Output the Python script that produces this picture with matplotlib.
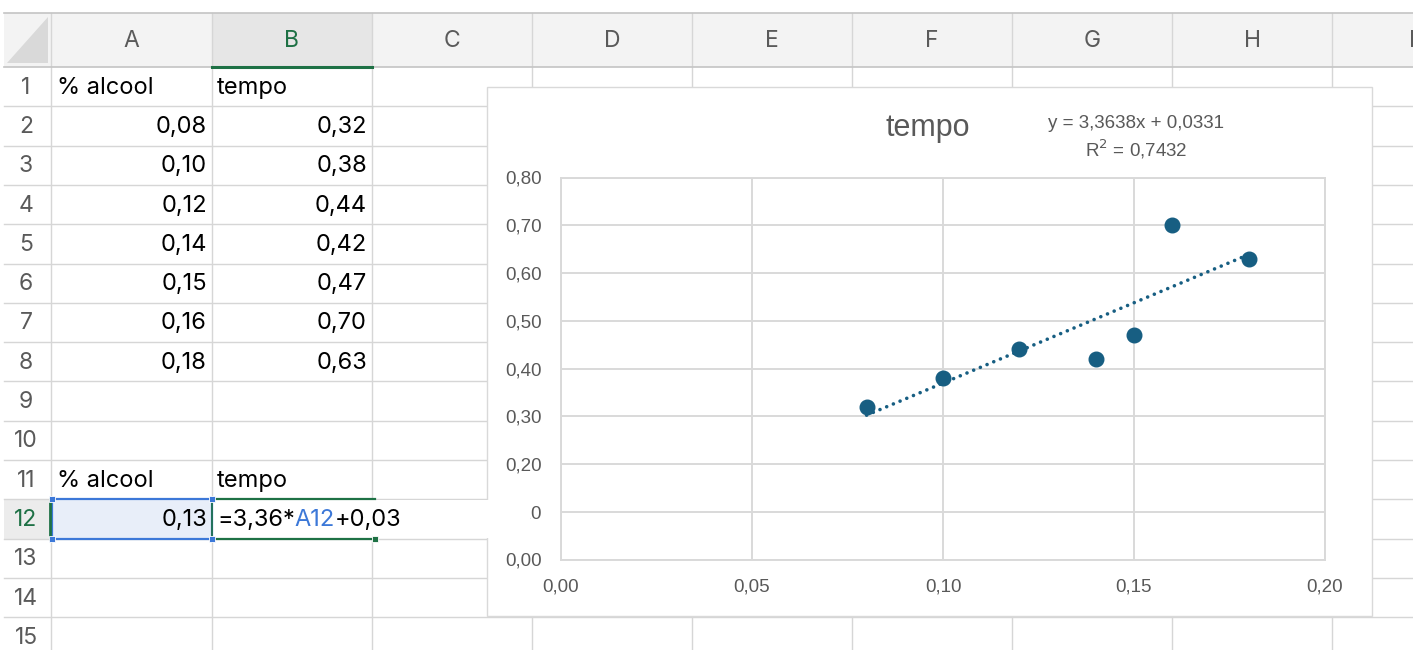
import matplotlib
matplotlib.use("Agg")
import matplotlib.pyplot as plt
import numpy as np
from matplotlib.patches import Rectangle, Polygon
from matplotlib.ticker import FuncFormatter

# ---------------- data ----------------
alcool = [0.08, 0.10, 0.12, 0.14, 0.15, 0.16, 0.18]
tempo = [0.32, 0.38, 0.44, 0.42, 0.47, 0.70, 0.63]
header_x = "% alcool"
header_y = "tempo"
query_x = 0.13
formula_parts = [("=3,36*", "#000000"), ("A12", "#3c78d8"), ("+0,03", "#000000")]
col_letters = ["A", "B", "C", "D", "E", "F", "G", "H", "I"]
row_numbers = list(range(1, 16))
chart_title = "tempo"
eq_line1 = "y = 3,3638x + 0,0331"
eq_line2 = "R$^2$ = 0,7432"
y_ticks = [0.0, 0.1, 0.2, 0.3, 0.4, 0.5, 0.6, 0.7, 0.8]
x_ticks = [0.0, 0.05, 0.10, 0.15, 0.20]

def fmt(v):
    return f"{v:.2f}".replace(".", ",")

W, H = 1417, 650
fig = plt.figure(figsize=(W / 100, H / 100), dpi=100)
fig.patch.set_facecolor("white")

CELL_FONT = ["Inter", "DejaVu Sans"]
CHART_FONT = ["Liberation Sans", "DejaVu Sans"]

# ---------------- sheet layer ----------------
sh = fig.add_axes([0, 0, 1, 1], zorder=0)
sh.set_xlim(0, W)
sh.set_ylim(H, 0)
sh.axis("off")

grid_c = "#d6d6d6"
col_edges = [51, 212, 372, 532, 692, 852, 1012, 1172, 1332]
right_edge = 1413
row_top = 67.0
row_h = 39.3
row_edges = [row_top + k * row_h for k in range(16)]

# header row background
sh.add_patch(Rectangle((4, 13), right_edge - 4, 54, fc="#f3f3f3", ec="none", zorder=1))
sh.add_patch(Rectangle((212, 13), 160, 54, fc="#e6e6e6", ec="none", zorder=1))
# corner triangle
sh.add_patch(Polygon([[7, 63], [48, 63], [48, 17]], closed=True, fc="#d9d9d9", ec="none", zorder=2))

# grid lines
for y in row_edges[1:]:
    sh.plot([4, right_edge], [y, y], color=grid_c, lw=1.0, zorder=2)
for x in col_edges:
    sh.plot([x, x], [13, H], color=grid_c, lw=1.0, zorder=2)
sh.plot([4, right_edge], [13, 13], color="#c4c4c4", lw=1.2, zorder=3)
sh.plot([4, right_edge], [67, 67], color="#c4c4c4", lw=1.2, zorder=3)
sh.plot([212, 372], [66.5, 66.5], color="#1e7145", lw=2.2, zorder=4)

# column letters
for i, letter in enumerate(col_letters):
    cx = col_edges[i] + 80
    color = "#1e7145" if letter == "B" else "#5a5a5a"
    sh.text(cx, 41, letter, ha="center", va="center", fontsize=16.5, color=color,
            family=CELL_FONT, zorder=5, clip_on=True)
# white margin at the right edge of the screenshot
sh.add_patch(Rectangle((right_edge, 0), W - right_edge, H, fc="white", ec="none", zorder=6))

# row numbers
for r in row_numbers:
    cy = row_top + (r - 0.5) * row_h
    color = "#1e7145" if r == 12 else "#5a5a5a"
    if r == 12:
        sh.add_patch(Rectangle((4, row_edges[11]), 47, row_h, fc="#ececec", ec="none", zorder=1.5))
    sh.text(26, cy + 1, str(r), ha="center", va="center", fontsize=16.5, color=color,
            family=CELL_FONT, zorder=5)

def row_c(r):
    return row_top + (r - 0.5) * row_h + 1

FS = 17
# table cells
sh.text(57, row_c(1), header_x, ha="left", va="center", fontsize=FS, family=CELL_FONT, zorder=5)
sh.text(217, row_c(1), header_y, ha="left", va="center", fontsize=FS, family=CELL_FONT, zorder=5)
for i, (a, t) in enumerate(zip(alcool, tempo)):
    r = 2 + i
    sh.text(207, row_c(r), fmt(a), ha="right", va="center", fontsize=FS, family=CELL_FONT, zorder=5)
    sh.text(367, row_c(r), fmt(t), ha="right", va="center", fontsize=FS, family=CELL_FONT, zorder=5)
sh.text(57, row_c(11), header_x, ha="left", va="center", fontsize=FS, family=CELL_FONT, zorder=5)
sh.text(217, row_c(11), header_y, ha="left", va="center", fontsize=FS, family=CELL_FONT, zorder=5)

# chart box
sh.add_patch(Rectangle((487, 86.5), 885, 529.5, fc="white", ec="#d9d9d9", lw=1.0, zorder=8))

# chart title and trend equation
sh.text(928, 128, chart_title, ha="center", va="center", fontsize=22, color="#595959",
        family=CHART_FONT, zorder=9)
sh.text(1136, 123, eq_line1, ha="center", va="center", fontsize=13.5, color="#595959",
        family=CHART_FONT, zorder=9)
sh.text(1136, 149, eq_line2, ha="center", va="center", fontsize=13.5, color="#595959",
        family=CHART_FONT, zorder=9)

# ---------------- chart layer ----------------
pl, pr, pt, pb = 561, 1325, 177.5, 559.5
ax = fig.add_axes([pl / W, 1 - pb / H, (pr - pl) / W, (pb - pt) / H], zorder=2)
ax.set_facecolor("white")
ax.set_xlim(0, 0.20)
ax.set_ylim(0, 0.80)
ax.set_xticks(x_ticks)
ax.set_yticks(y_ticks)
ax.xaxis.set_major_formatter(FuncFormatter(lambda v, p: fmt(v)))
ax.yaxis.set_major_formatter(FuncFormatter(lambda v, p: fmt(v)))
ax.grid(True, color="#d9d9d9", lw=1.4)
ax.set_axisbelow(True)
for s in ax.spines.values():
    s.set_color("#d9d9d9")
    s.set_linewidth(1.4)
ax.tick_params(length=0, labelsize=13.5, labelcolor="#595959", pad=14)
for lab in ax.get_xticklabels() + ax.get_yticklabels():
    lab.set_family(CHART_FONT)

mc = "#175e82"
xs = np.array(alcool)
ys = np.array(tempo)
slope, inter = np.polyfit(xs, ys, 1)
tx = np.array([xs.min(), xs.max()])
ax.plot(tx, slope * tx + inter, color=mc, lw=2.6, linestyle=(0, (0.01, 2.0)),
        dash_capstyle="round", solid_capstyle="round", zorder=3)
ax.plot(xs, ys, "o", color=mc, markersize=10.5, zorder=4, clip_on=False)

# ---------------- overlay (cell editor on row 12) ----------------
ov = fig.add_axes([0, 0, 1, 1], zorder=5)
ov.set_xlim(0, W)
ov.set_ylim(H, 0)
ov.axis("off")
ov.patch.set_alpha(0)

y0, y1 = row_edges[11], row_edges[12]
ov.add_patch(Rectangle((213, y0 + 1), 316.5, y1 - y0 - 2, fc="white", ec="none", zorder=1))
ov.add_patch(Rectangle((52, y0), 160, y1 - y0, fc="#e8eef9", ec="#3c78d8", lw=1.6, zorder=2))
ov.plot([212, 375], [y0, y0], color="#1e7145", lw=1.6, zorder=3)
ov.plot([212, 375], [y1, y1], color="#1e7145", lw=1.6, zorder=3)
ov.plot([212, 212], [y0, y1], color="#1e7145", lw=1.2, zorder=3)
ov.plot([50, 50], [y0, y1], color="#1e7145", lw=2.0, zorder=3)
for (hx, hy) in [(52, y0), (212, y0), (52, y1), (212, y1)]:
    ov.add_patch(Rectangle((hx - 3, hy - 3), 6, 6, fc="#3c78d8", ec="white", lw=0.6, zorder=4))
ov.add_patch(Rectangle((372, y1 - 3), 6, 6, fc="#1e7145", ec="white", lw=0.6, zorder=4))

ov.text(207, row_c(12), fmt(query_x), ha="right", va="center", fontsize=FS, family=CELL_FONT, zorder=5)

fig.canvas.draw()
renderer = fig.canvas.get_renderer()
cur_x = 217.0
inv = ov.transData.inverted()
for txt, col in formula_parts:
    t = ov.text(cur_x, row_c(12), txt, ha="left", va="center", fontsize=FS, color=col,
                family=CELL_FONT, zorder=5)
    bb = t.get_window_extent(renderer=renderer)
    cur_x = inv.transform((bb.x1, bb.y0))[0]

fig.savefig("out.png", dpi=100, facecolor="white")
